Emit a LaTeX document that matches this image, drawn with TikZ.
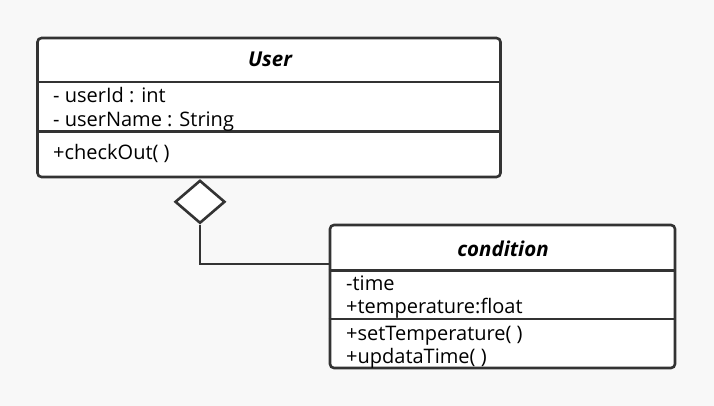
\documentclass[tikz,border=0pt]{standalone}
\usepackage{fontspec}
\setmainfont{Open Sans}
\usetikzlibrary{shapes.geometric, positioning}
\definecolor{umlline}{HTML}{333333}
\definecolor{canvas}{HTML}{F8F8F8}
\tikzset{
  classbox/.style={draw=umlline, line width=2.6pt, fill=white, rounded corners=4pt, inner sep=0pt},
  divider/.style={draw=umlline, line width=2.6pt},
  title/.style={anchor=base, inner sep=0pt, font=\fontsize{20.5}{22}\selectfont\bfseries\itshape},
  member/.style={anchor=base west, inner sep=0pt, font=\fontsize{20}{22}\selectfont},
  aggr/.style={diamond, draw=umlline, line width=2.6pt, fill=white, minimum width=50pt, minimum height=43pt, inner sep=0pt},
  link/.style={draw=umlline, line width=2.6pt}
}

\begin{document}
\begin{tikzpicture}[x=1pt, y=-1pt]
\fill[canvas] (0,0) rectangle (714,406);
\useasboundingbox (0,0) rectangle (714,406);
% class User
\node[classbox, minimum width=463pt, minimum height=139pt] (user) at (269,107.5) {};
\draw[divider] (user.west |- 0,82) -- (user.east |- 0,82);
\draw[divider] (user.west |- 0,131.5) -- (user.east |- 0,131.5);
\node[title] (usertitle) at (270,67) {User};
\node[member] (userid) at (53,103) {- userId : int};
\node[member] (username) at (53,127) {- userName : String};
\node[member] (checkout) at (53,160) {+checkOut( )};
% class condition
\node[classbox, minimum width=345pt, minimum height=143pt] (cond) at (502.5,296.5) {};
\draw[divider] (cond.west |- 0,270.5) -- (cond.east |- 0,270.5);
\draw[divider] (cond.west |- 0,319) -- (cond.east |- 0,319);
\node[title] (condtitle) at (503,256) {condition};
\node[member] (time) at (346,290) {-time};
\node[member] (temp) at (346,313.5) {+temperature:float};
\node[member] (settemp) at (346,340) {+setTemperature( )};
\node[member] (updtime) at (346,363.5) {+updataTime( )};
% aggregation
\node[aggr, anchor=north] (agg) at (200,179) {};
\draw[link] (agg.south) |- ([yshift=32.5pt]cond.west);
\end{tikzpicture}
\end{document}
